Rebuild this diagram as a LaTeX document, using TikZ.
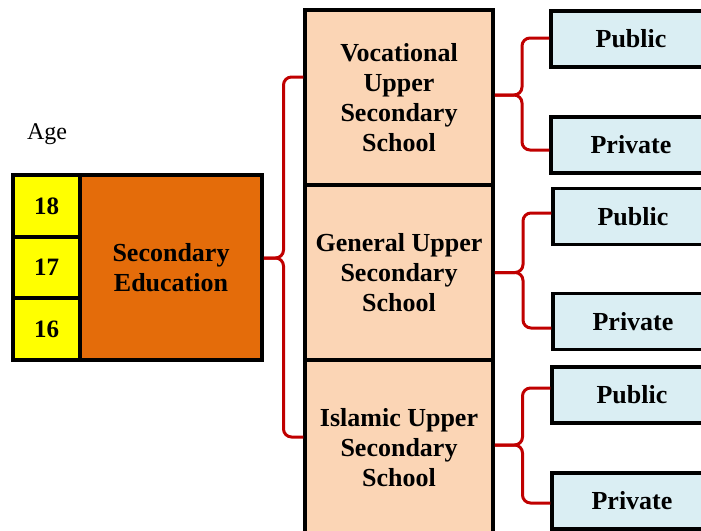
\documentclass[tikz,border=0pt]{standalone}
\usepackage{fontspec}
\setmainfont{Liberation Serif}
\usetikzlibrary{calc}
\definecolor{ageyel}{HTML}{FFFF00}
\definecolor{secorg}{HTML}{E46C0A}
\definecolor{peach}{HTML}{FBD5B5}
\definecolor{lblue}{HTML}{DAEEF3}
\definecolor{bred}{HTML}{C00000}
\tikzset{
  box/.style={draw=black, line width=3.5pt, rectangle, inner sep=0pt, align=center,
    font=\fontsize{26}{30}\selectfont\bfseries},
  agebox/.style={box, fill=ageyel, minimum width=67pt, font=\fontsize{25}{30}\selectfont\bfseries},
  secbox/.style={box, fill=secorg, minimum width=182pt, minimum height=185pt},
  schbox/.style={box, fill=peach, minimum width=188pt, minimum height=175pt},
  pbox/.style={box, fill=lblue, minimum width=160pt, minimum height=56pt},
  rb/.style={draw=bred, line width=3pt, rounded corners=8pt, line join=round},
}
\begin{document}
\begin{tikzpicture}[x=1pt,y=-1pt]
\useasboundingbox (0,0) rectangle (701,530);
\clip (0,0) rectangle (701,530);
\node[font=\fontsize{24}{28}\selectfont] (age) at (47,134) {Age};
\node[secbox] (sec) at (171,267.5) {Secondary\\Education};
\node[agebox, minimum height=62pt] (a18) at (46.5,206) {18};
\node[agebox, minimum height=61pt] (a17) at (46.5,267.5) {17};
\node[agebox, minimum height=62pt] (a16) at (46.5,329) {16};
\node[schbox] (voc) at (399,97.5) {Vocational\\Upper\\Secondary\\School};
\node[schbox] (gen) at (399,272.5) {General Upper\\Secondary\\School};
\node[schbox] (isl) at (399,447.5) {Islamic Upper\\Secondary\\School};
\node[pbox] (pub1) at (631,39) {Public};
\node[pbox] (pri1) at (631,145) {\raisebox{-4pt}{Private}};
\node[pbox] (pub2) at (633,216.5) {Public};
\node[pbox] (pri2) at (633,321.5) {\raisebox{-4pt}{Private}};
\node[pbox] (pub3) at (632,395) {Public};
\node[pbox] (pri3) at (632,501) {\raisebox{-3pt}{Private}};
% left brace
\coordinate (v1) at ([yshift=20.5pt]voc.west);
\coordinate (v3) at ([yshift=10.5pt]isl.west);
\coordinate (t0) at ([yshift=9.5pt]sec.east);
\coordinate (bx) at ($(sec.east)!0.5!(gen.west)$);
\draw[rb] (v1) -- (v1 -| bx) -- (t0 -| bx) -- (t0);
\draw[rb] (v3) -- (v3 -| bx) -- (t0 -| bx) -- (t0);
% right brace 1
\coordinate (r1t) at ([yshift=1pt]pub1.west);
\coordinate (r1b) at ([yshift=-5pt]pri1.west);
\coordinate (r1m) at ([yshift=2.5pt]voc.east);
\coordinate (r1x) at ($(voc.east)!0.5!(pub1.west)$);
\draw[rb] (r1t) -- (r1t -| r1x) -- (r1m -| r1x) -- (r1m);
\draw[rb] (r1b) -- (r1b -| r1x) -- (r1m -| r1x) -- (r1m);
% right brace 2
\coordinate (r2t) at ([yshift=3.5pt]pub2.west);
\coordinate (r2b) at ([yshift=-6.5pt]pri2.west);
\coordinate (r2m) at (gen.east);
\coordinate (r2x) at ($(gen.east)!0.5!(pub2.west)$);
\draw[rb] (r2t) -- (r2t -| r2x) -- (r2m -| r2x) -- (r2m);
\draw[rb] (r2b) -- (r2b -| r2x) -- (r2m -| r2x) -- (r2m);
% right brace 3
\coordinate (r3t) at ([yshift=7pt]pub3.west);
\coordinate (r3b) at ([yshift=-2pt]pri3.west);
\coordinate (r3m) at ([yshift=2.5pt]isl.east);
\coordinate (r3x) at ($(isl.east)!0.5!(pub3.west)$);
\draw[rb] (r3t) -- (r3t -| r3x) -- (r3m -| r3x) -- (r3m);
\draw[rb] (r3b) -- (r3b -| r3x) -- (r3m -| r3x) -- (r3m);
\end{tikzpicture}
\end{document}
